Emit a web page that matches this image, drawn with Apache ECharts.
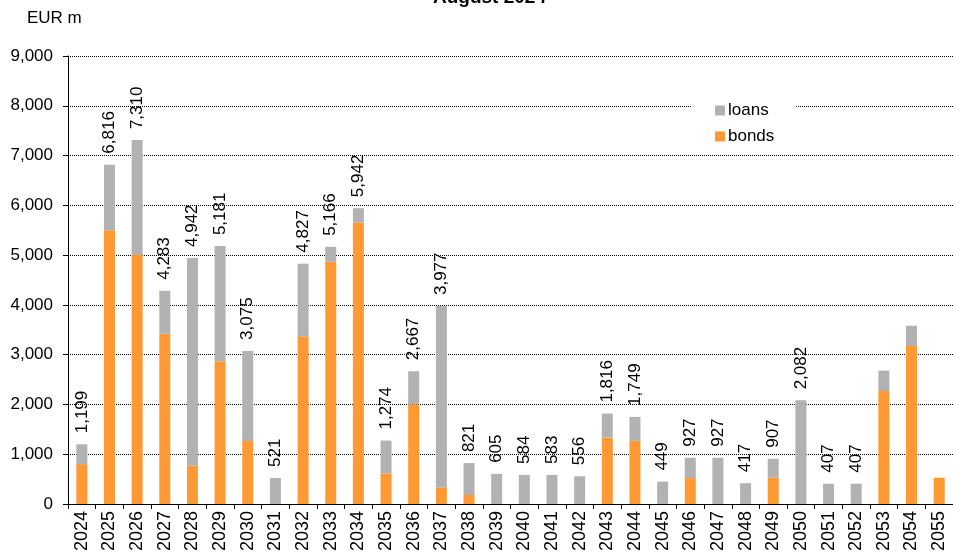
<!DOCTYPE html>
<html>
<head>
    <meta charset="utf-8" />
    <title>Maturity profile</title>
    <script src="https://cdn.jsdelivr.net/npm/echarts@6/dist/echarts.min.js"></script>
    <style>
        html, body { margin: 0; padding: 0; background: #fff; }
        #main { width: 953px; height: 554px; }
    </style>
</head>
<body>
    <div id="main"></div>
    <script type="text/javascript">
        var years = ['2024', '2025', '2026', '2027', '2028', '2029', '2030', '2031', '2032', '2033', '2034',
            '2035', '2036', '2037', '2038', '2039', '2040', '2041', '2042', '2043', '2044', '2045', '2046',
            '2047', '2048', '2049', '2050', '2051', '2052', '2053', '2054', '2055'];
        var bonds = [800, 5500, 5000, 3420, 774, 2867, 1267, 0, 3367, 4867, 5653,
            613, 2000, 333, 180, 0, 0, 0, 0, 1333, 1267, 0, 520,
            0, 0, 527, 0, 0, 0, 2267, 3173, 527];
        // totals printed above the bars (blank where the reference shows none)
        var totals = [1199, 6816, 7310, 4283, 4942, 5181, 3075, 521, 4827, 5166, 5942,
            1274, 2667, 3977, 821, 605, 584, 583, 556, 1816, 1749, 449, 927,
            927, 417, 907, 2082, 407, 407, null, null, null];
        var loansTail = { '2053': 413, '2054': 407, '2055': 0 };
        var loans = years.map(function (y, i) {
            return totals[i] != null ? totals[i] - bonds[i] : loansTail[y];
        });

        var font = 'Arial, "Liberation Sans", sans-serif';
        var myChart = echarts.init(document.getElementById('main'));
        var option = {
            animation: false,
            textStyle: { fontFamily: font, color: '#000' },
            title: [{
                text: 'August 2024',
                left: 433,
                top: -12,
                padding: 0,
                textStyle: { fontFamily: font, fontSize: 19, fontWeight: 'bold', color: '#000' }
            }, {
                text: 'EUR m',
                left: 27,
                top: 10,
                padding: 0,
                textStyle: { fontFamily: font, fontSize: 17, fontWeight: 'normal', color: '#000' }
            }],
            legend: {
                data: ['loans', 'bonds'],
                orient: 'vertical',
                left: 691,
                top: 98,
                padding: [4, 22, 4, 24],
                backgroundColor: '#fff',
                itemWidth: 10,
                itemHeight: 10,
                itemGap: 9,
                itemStyle: { borderWidth: 0 },
                textStyle: { fontFamily: font, fontSize: 17, color: '#000', padding: [0, 0, 0, -2] },
                icon: 'rect'
            },
            grid: { left: 68, right: 0, top: 56, bottom: 48, containLabel: false },
            xAxis: {
                type: 'category',
                data: years,
                axisLine: { lineStyle: { color: '#000', width: 1 } },
                axisTick: { show: true, length: 5, alignWithLabel: false, lineStyle: { color: '#000' } },
                axisLabel: { rotate: 90, fontSize: 18, margin: 7, color: '#000', interval: 0, fontFamily: font }
            },
            yAxis: {
                type: 'value',
                min: 0,
                max: 9000,
                interval: 1000,
                axisLine: { show: true, lineStyle: { color: '#000', width: 1 } },
                axisTick: { show: true, length: 5, lineStyle: { color: '#000' } },
                axisLabel: {
                    fontSize: 17, margin: 15, color: '#000', fontFamily: font,
                    formatter: function (v) { return v.toLocaleString('en-US'); }
                },
                splitLine: { show: true, lineStyle: { color: '#000', type: 'dotted', width: 1 } }
            },
            series: [{
                name: 'bonds',
                type: 'bar',
                stack: 'total',
                barWidth: 11,
                itemStyle: { color: '#FF9933' },
                data: bonds
            }, {
                name: 'loans',
                type: 'bar',
                stack: 'total',
                barWidth: 11,
                itemStyle: { color: '#B2B2B2' },
                label: {
                    show: true,
                    position: 'top',
                    rotate: 90,
                    align: 'left',
                    verticalAlign: 'middle',
                    distance: 11,
                    fontSize: 17,
                    color: '#000',
                    fontFamily: font,
                    formatter: function (p) {
                        var t = totals[p.dataIndex];
                        return t == null ? '' : t.toLocaleString('en-US');
                    }
                },
                data: loans
            }]
        };
        myChart.setOption(option);
    </script>
</body>
</html>
